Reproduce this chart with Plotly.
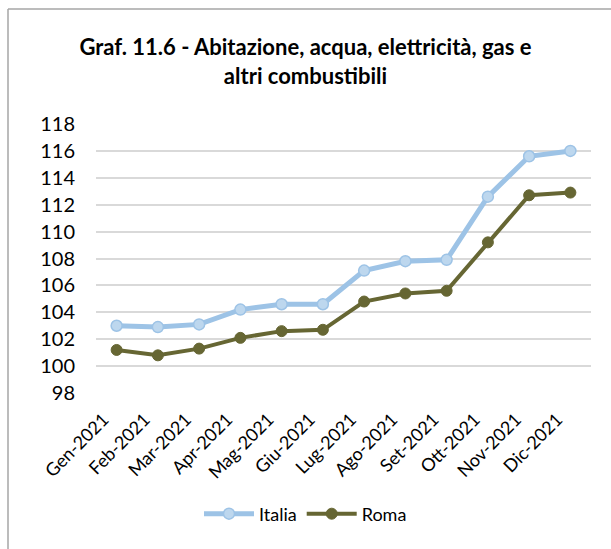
import plotly.graph_objects as go

months = ["Gen-2021", "Feb-2021", "Mar-2021", "Apr-2021", "Mag-2021", "Giu-2021",
          "Lug-2021", "Ago-2021", "Set-2021", "Ott-2021", "Nov-2021", "Dic-2021"]
italia = [103.0, 102.9, 103.1, 104.2, 104.6, 104.6, 107.1, 107.8, 107.9, 112.6, 115.6, 116.0]
roma = [101.2, 100.8, 101.3, 102.1, 102.6, 102.7, 104.8, 105.4, 105.6, 109.2, 112.7, 112.9]
y_ticks = [98, 100, 102, 104, 106, 108, 110, 112, 114, 116, 118]

FONT = "Lato, Carlito, Calibri, sans-serif"

fig = go.Figure()
fig.add_trace(go.Scatter(
    x=months, y=italia, name="Italia", mode="lines+markers",
    line=dict(color="#9DC3E6", width=5),
    marker=dict(size=11, color="#BDD7EE", line=dict(color="#9DC3E6", width=1.5)),
))
fig.add_trace(go.Scatter(
    x=months, y=roma, name="Roma", mode="lines+markers",
    line=dict(color="#666633", width=4),
    marker=dict(size=11, color="#666633", line=dict(color="#666633", width=1)),
))

L, R, T, B = 96, 20, 124, 156
W, H = 611, 549
pw, ph = W - L - R, H - T - B

fig.update_layout(
    width=W, height=H,
    margin=dict(l=L, r=R, t=T, b=B, autoexpand=False),
    paper_bgcolor="white", plot_bgcolor="white",
    font=dict(family=FONT, size=17, color="#000000"),
    title=dict(
        text="<b>Graf. 11.6 - Abitazione, acqua, elettricità, gas e<br>altri combustibili</b>",
        x=0.5, xref="container", xanchor="center", y=1 - 55 / H, yanchor="top",
        font=dict(family=FONT, size=22, color="#000000"),
    ),
    showlegend=True,
    legend=dict(
        orientation="h", x=0.5, xanchor="center", xref="container",
        y=1 - 514 / H, yref="container", yanchor="middle",
        font=dict(family=FONT, size=18), itemwidth=50,
        bgcolor="rgba(0,0,0,0)",
    ),
    xaxis=dict(
        type="category", range=[-0.5, len(months) - 0.5], tickangle=-45,
        showgrid=False, zeroline=False, showline=False,
        ticks="outside", ticklen=8, tickcolor="rgba(0,0,0,0)", automargin=False,
        ticklabelshift=-13,
        tickfont=dict(family=FONT, size=18),
    ),
    yaxis=dict(
        range=[98, 118], tickvals=y_ticks, showgrid=True, gridcolor="#D9D9D9",
        gridwidth=1.5, zeroline=False, showline=False,
        ticks="outside", ticklen=16, tickcolor="rgba(0,0,0,0)", automargin=False,
        tickfont=dict(family=FONT, size=20),
    ),
    shapes=[
        dict(type="line", xref="paper", yref="paper",
             x0=(8 - L) / pw, x1=(W - L) / pw, y0=1 + (T - 9) / ph, y1=1 + (T - 9) / ph,
             line=dict(color="#A6A6A6", width=1.5)),
        dict(type="line", xref="paper", yref="paper",
             x0=(8 - L) / pw, x1=(8 - L) / pw, y0=1 + (T - 9) / ph, y1=-(B) / ph,
             line=dict(color="#A6A6A6", width=1.5)),
    ],
)

fig.write_html("out.html", config={"displayModeBar": False},
               post_script="document.body.style.margin='0';")
